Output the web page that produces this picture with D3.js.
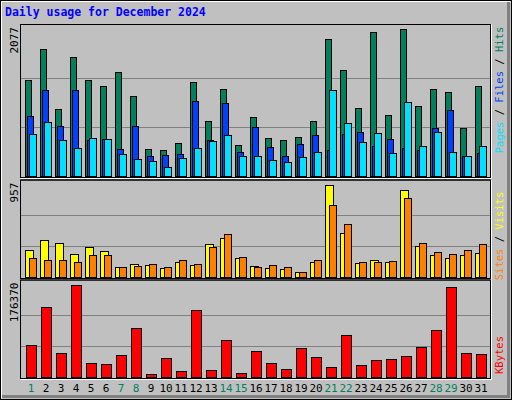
<!DOCTYPE html>
<html><head><meta charset="utf-8">
<script src="https://cdn.jsdelivr.net/npm/d3@7"></script>
<style>body{margin:0;background:#fff}</style></head><body>
<script>
const days = d3.range(1, 32);
const weekend = [1,7,8,14,15,21,22,28,29];
const hits  = [1358,1795,949,1682,1358,1273,1471,1132,386,371,470,1329,780,1231,442,836,540,512,554,780,1936,1499,963,2035,864,2077,992,1231,1189,681,1273];
const files = [851,1217,710,1217,512,527,386,710,286,301,315,1061,512,1034,343,695,413,286,456,583,371,597,625,427,527,400,371,681,935,286,329];
const pages = [597,766,512,400,540,527,315,244,216,132,259,400,498,583,286,286,230,202,273,343,1217,752,484,610,329,1048,427,625,343,286,427];
const visits = [281,385,354,239,312,270,104,135,125,94,156,125,343,406,198,114,94,83,52,156,957,458,146,177,156,905,322,229,198,229,250];
const sites  = [198,177,177,156,229,229,104,114,135,104,177,135,312,447,208,104,125,104,52,177,749,551,156,156,166,822,354,260,239,281,343];
const kbytes = [60080,133720,46510,176370,27130,25190,42640,93020,5810,36820,11630,127910,13570,69770,7750,50390,27130,15500,56200,38760,19380,79460,23260,32950,34880,40700,58140,89150,172480,46510,44570];
const maxHits = 2077, maxVisits = 957, maxK = 176370;

const svg = d3.select("body").append("svg").attr("width",512).attr("height",400);
const font = "DejaVu Sans Mono";
svg.append("rect").attr("x",0).attr("y",0).attr("width",512).attr("height",400).attr("fill","#C0C0C0");
svg.append("rect").attr("x",0.5).attr("y",0.5).attr("width",511).attr("height",399).attr("fill","none").attr("stroke","#000");
svg.append("path").attr("d","M1.5,398.5V1.5H510.5").attr("stroke","#fff").attr("fill","none");
svg.append("path").attr("d","M2,396.5H508.5V2").attr("stroke","#808080").attr("stroke-width",3).attr("fill","none");
svg.append("text").attr("x",5).attr("y",16).attr("fill","#0000FF").attr("font-family",font)
  .attr("font-weight","bold").attr("font-size",11.5).text("Daily usage for December 2024");

const x = d3.scaleLinear().domain([1,31]).range([25,475]);
const panels = [
  {top:25, bot:177, max:maxHits, label:"2077"},
  {top:180.5, bot:278, max:maxVisits, label:"957"},
  {top:280.5, bot:378, max:maxK, label:"176370"}
];
panels.forEach(p=>{
  svg.append("rect").attr("x",20.5).attr("y",p.top-0.5).attr("width",470).attr("height",p.bot-p.top+1)
    .attr("fill","#C0C0C0").attr("stroke","#000");
  svg.append("path").attr("d",`M20.5,${p.bot+0.5}V${p.top-0.5}H490.5`).attr("stroke","#000").attr("fill","none");
  svg.append("path").attr("d",`M20.5,${p.bot+1.5}H491.5V${p.top-0.5}`).attr("stroke","#fff").attr("fill","none");
  p.y = d3.scaleLinear().domain([0,p.max]).range([p.bot-1, p.top+4]);
  const h = p.y(0)-p.y(p.max);
  [1,2].forEach(k=>{
    const yy = Math.round(p.bot - 1 - k*h/3)+0.5;
    svg.append("line").attr("x1",21).attr("x2",490).attr("y1",yy).attr("y2",yy).attr("stroke","#808080");
  });
  svg.append("text").attr("transform",`translate(18,${p.top+2}) rotate(-90)`).attr("text-anchor","end")
    .attr("font-family",font).attr("font-size",11).attr("fill","#000").text(p.label);
});

function bars(arr, p, off, w, color){
  svg.append("g").selectAll("rect").data(arr).join("rect")
    .attr("x",(d,i)=>x(i+1)+off+0.5).attr("width",w)
    .attr("y",d=>Math.round(p.y(d))+0.5).attr("height",d=>Math.max(0,Math.round(p.y(0))-Math.round(p.y(d))))
    .attr("fill",color).attr("stroke","#000");
}
bars(hits, panels[0], 0, 6, "#00805C");
bars(files, panels[0], 2, 6, "#0040FF");
bars(pages, panels[0], 4, 7, "#00E0FF");
bars(visits, panels[1], 0, 8, "#FFFF00");
bars(sites, panels[1], 4, 7, "#FF8000");
bars(kbytes, panels[2], 1, 10, "#FF0000");

svg.append("g").selectAll("text").data(days).join("text")
  .attr("x",d=>x(d)+6).attr("y",392).attr("text-anchor","middle")
  .attr("font-family",font).attr("font-size",11)
  .attr("fill",d=>weekend.includes(d)?"#00805C":"#000").text(d=>d);

function rlabel(cy, parts){
  const t = svg.append("text").attr("transform",`translate(503,${cy}) rotate(-90)`)
    .attr("text-anchor","middle").attr("font-family",font).attr("font-size",10.5);
  parts.forEach(([s,c])=>t.append("tspan").attr("fill",c).text(s));
}
rlabel(90,[["Pages","#00E0FF"],[" / ","#000"],["Files","#0040FF"],[" / ","#000"],["Hits","#00805C"]]);
rlabel(236,[["Sites","#FF8000"],[" / ","#000"],["Visits","#FFFF00"]]);
rlabel(355,[["KBytes","#FF0000"]]);
</script></body></html>
